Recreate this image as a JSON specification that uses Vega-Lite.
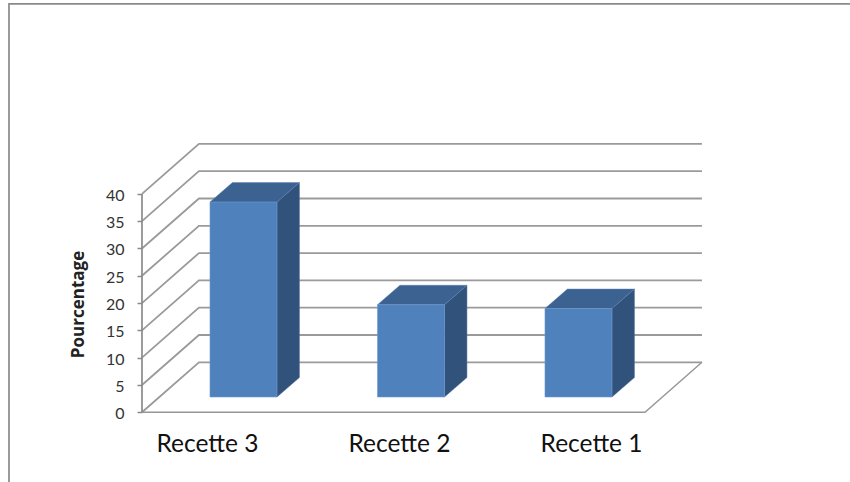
{
 "$schema":"https://vega.github.io/schema/vega-lite/v6.json",
 "width":850,"height":482,"autosize":"none","padding":0,"background":"white",
 "config":{"view":{"stroke":null},"font":"Lato"},
 "datasets":{
  "barres":[
   {"recette":"Recette 3","rang":0,"pourcentage":35.7,"libelle":-0.215},
   {"recette":"Recette 2","rang":1,"pourcentage":16.9,"libelle":0.931},
   {"recette":"Recette 1","rang":2,"pourcentage":16.2,"libelle":2.078}
  ],
  "niveaux":[{"niveau":0},{"niveau":5},{"niveau":10},{"niveau":15},{"niveau":20},{"niveau":25},{"niveau":30},{"niveau":35},{"niveau":40}],
  "sol":[{"gx":-0.606,"gy":0},{"gx":2.397,"gy":0},{"gx":2.737,"gy":9.16}],
  "axe":[{"gx":-0.606,"gy":0},{"gx":-0.606,"gy":40}],
  "cadre":[{"ordre":0,"gx":-1.4,"gy":-12.766},{"ordre":1,"gx":-1.4,"gy":74.8},{"ordre":2,"gx":3.621,"gy":74.8}]
 },
 "layer":[
  {"data":{"name":"cadre"},
   "mark":{"type":"line","stroke":"#8a8a8a","strokeWidth":1.7,"clip":false},
   "encoding":{
    "x":{"field":"gx","type":"quantitative","scale":{"domain":[-1.4537,3.621],"nice":false,"zero":false},"axis":null},
    "y":{"field":"gy","type":"quantitative","scale":{"domain":[-12.766,75.51],"nice":false,"zero":false},
     "axis":{"title":"Pourcentage","offset":-142,"values":[0,5,10,15,20,25,30,35,40],"grid":false,"domain":false,
      "tickSize":5,"tickColor":"#8a8a8a","tickWidth":1.5,"labelFont":"Lato","labelFontSize":16,"labelColor":"#333333","labelPadding":13,"labelOffset":1.5,
      "titleFont":"Open Sans","titleFontSize":17,"titleFontWeight":"bold","titleColor":"#222222","titleX":-55,"titleY":304,"titleAnchor":"middle"}},
    "order":{"field":"ordre","type":"quantitative"}}},
  {"data":{"name":"niveaux"},
   "transform":[
    {"calculate":"[-0.606,-0.266,2.737]","as":"gx"},
    {"calculate":"[0,9.16,9.16]","as":"gy"},
    {"flatten":["gx","gy"]},
    {"calculate":"datum.niveau+datum.gy","as":"gyy"}],
   "mark":{"type":"line","stroke":"#9a9a9a","strokeWidth":1.8},
   "encoding":{
    "x":{"field":"gx","type":"quantitative"},
    "y":{"field":"gyy","type":"quantitative"},
    "detail":{"field":"niveau"}}},
  {"data":{"name":"sol"},
   "mark":{"type":"line","stroke":"#969696","strokeWidth":1.4},
   "encoding":{
    "x":{"field":"gx","type":"quantitative"},
    "y":{"field":"gy","type":"quantitative"}}},
  {"data":{"name":"axe"},
   "mark":{"type":"line","stroke":"#8a8a8a","strokeWidth":1.7},
   "encoding":{
    "x":{"field":"gx","type":"quantitative"},
    "y":{"field":"gy","type":"quantitative"}}},
  {"data":{"name":"barres"},
   "transform":[
    {"calculate":"[0,1]","as":"d"},{"flatten":["d"]},
    {"calculate":"datum.rang+0.2+datum.d*0.134","as":"sx"},
    {"calculate":"2.8+datum.d*3.57","as":"sy0"},
    {"calculate":"datum.sy0+datum.pourcentage","as":"sy1"}],
   "mark":{"type":"area","color":"#31527b","stroke":"#4a6f9e","strokeWidth":0.5},
   "encoding":{
    "x":{"field":"sx","type":"quantitative"},
    "y":{"field":"sy0","type":"quantitative"},
    "y2":{"field":"sy1"},
    "detail":{"field":"recette"}}},
  {"data":{"name":"barres"},
   "transform":[
    {"calculate":"[0,1]","as":"d"},{"flatten":["d"]},
    {"calculate":"datum.rang-0.2+datum.d*0.134","as":"tx0"},
    {"calculate":"datum.rang+0.2+datum.d*0.134","as":"tx1"},
    {"calculate":"2.8+datum.pourcentage+datum.d*3.57","as":"ty"}],
   "mark":{"type":"area","orient":"horizontal","color":"#3c6291","stroke":"#5a82b3","strokeWidth":0.5},
   "encoding":{
    "y":{"field":"ty","type":"quantitative"},
    "x":{"field":"tx0","type":"quantitative"},
    "x2":{"field":"tx1"},
    "detail":{"field":"recette"}}},
  {"data":{"name":"barres"},
   "transform":[
    {"calculate":"datum.rang-0.2","as":"fx0"},
    {"calculate":"datum.rang+0.2","as":"fx1"},
    {"calculate":"2.8","as":"fy0"},
    {"calculate":"2.8+datum.pourcentage","as":"fy1"}],
   "mark":{"type":"rect","color":"#4f81bd","stroke":"#6d9ad0","strokeWidth":0.6},
   "encoding":{
    "x":{"field":"fx0","type":"quantitative"},
    "x2":{"field":"fx1"},
    "y":{"field":"fy0","type":"quantitative"},
    "y2":{"field":"fy1"}}},
  {"data":{"name":"barres"},
   "mark":{"type":"text","font":"Lato","fontSize":24.5,"color":"#111111","baseline":"middle","align":"center"},
   "encoding":{
    "x":{"field":"libelle","type":"quantitative"},
    "y":{"datum":-6.0,"type":"quantitative"},
    "text":{"field":"recette"}}}
 ]
}
